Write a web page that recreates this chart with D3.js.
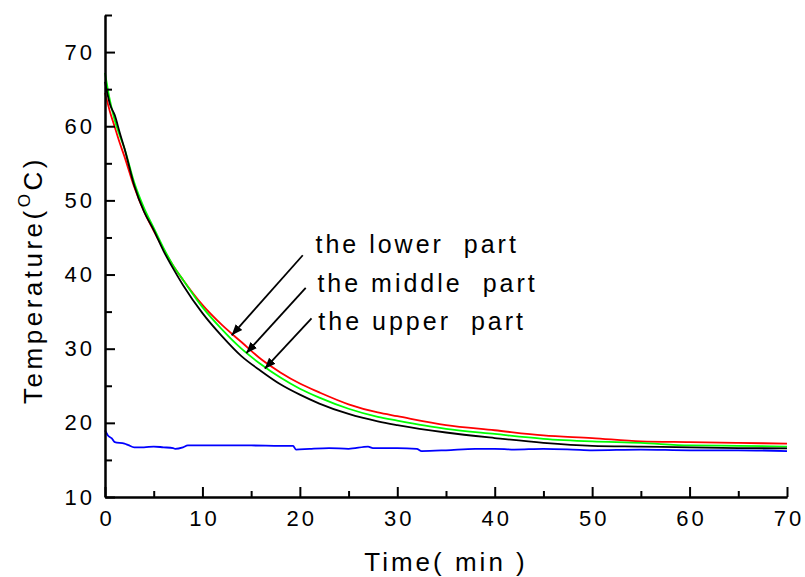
<!DOCTYPE html>
<html>
<head>
<meta charset="utf-8">
<script src="https://cdn.jsdelivr.net/npm/d3@7"></script>
<style>
  body { margin: 0; background: #fff; }
  text { font-family: "Liberation Sans", Arial, sans-serif; fill: #000; }
</style>
</head>
<body>
<script>
// time in minutes, temperatures
var tTimes = [0, 0.5, 1, 1.5, 2, 3, 4, 5, 6, 7, 8, 10, 12, 14, 16, 18, 20, 22, 25, 28, 30, 35, 40, 45, 50, 55, 60, 65, 70];
var lowerPart  = [64.5, 62.0, 59.9, 57.8, 55.9, 51.8, 48.5, 45.9, 43.4, 41.2, 39.3, 35.9, 33.2, 30.9, 28.6, 26.8, 25.3, 24.1, 22.5, 21.4, 20.9, 19.7, 19.0, 18.3, 17.95, 17.5, 17.4, 17.3, 17.2];
var middlePart = [67.2, 63.5, 60.8, 58.8, 57.0, 52.4, 49.0, 46.3, 43.6, 41.2, 39.3, 35.6, 32.6, 30.0, 27.9, 26.1, 24.6, 23.4, 21.9, 20.8, 20.3, 19.2, 18.5, 17.85, 17.5, 17.3, 16.95, 16.9, 16.8];
var upperPart  = [66.0, 63.0, 61.5, 59.2, 57.0, 52.0, 48.5, 46.0, 43.2, 40.8, 38.6, 34.8, 31.7, 29.0, 27.0, 25.2, 23.8, 22.6, 21.2, 20.2, 19.7, 18.7, 17.95, 17.3, 16.9, 16.8, 16.7, 16.6, 16.55];

// ambient (blue) trace
var blueTimes = [0, 0.3, 0.7, 1, 2, 2.4, 3, 4, 5, 6, 7, 7.2, 8, 8.5, 10, 12, 15, 18, 19.3, 19.6, 21, 23, 25, 27, 27.5, 28, 30, 32, 32.5, 35, 38, 40, 42, 45, 48, 50, 55, 60, 65, 70];
var blueTemps = [19.0, 18.3, 17.9, 17.4, 17.2, 17.0, 16.7, 16.7, 16.8, 16.7, 16.6, 16.5, 16.7, 16.95, 16.95, 16.95, 16.95, 16.9, 16.9, 16.4, 16.5, 16.6, 16.5, 16.8, 16.6, 16.6, 16.6, 16.5, 16.2, 16.3, 16.5, 16.5, 16.4, 16.5, 16.4, 16.3, 16.4, 16.3, 16.3, 16.2];

var xMajor = [0, 10, 20, 30, 40, 50, 60, 70];
var xMinor = [5, 15, 25, 35, 45, 55, 65];
var yMajor = [10, 20, 30, 40, 50, 60, 70];
var yMinor = [15, 25, 35, 45, 55, 65, 75];

// annotation labels: text anchor and arrow tail/tip in data units
var noteLabels = ["the lower  part", "the middle  part", "the upper  part"];
var noteText = [[21.6, 42.9], [21.8, 37.6], [21.9, 32.5]];
var noteTail = [[20.3, 42.6], [20.6, 38.2], [21.2, 34.1]];
var noteTip  = [[13.0, 31.8], [14.5, 29.4], [16.4, 27.3]];

var width = 805, height = 577;
var margin = {top: 15, right: 18, bottom: 80, left: 105};

var svg = d3.select("body").append("svg")
    .attr("width", width)
    .attr("height", height);

var x = d3.scaleLinear().domain([0, 70]).range([margin.left, width - margin.right]);
var y = d3.scaleLinear().domain([10, 75]).range([height - margin.bottom, margin.top]);

//Series
var series = [
    {name: "lower", color: "#ff0000", t: tTimes, v: lowerPart},
    {name: "middle", color: "#00ff00", t: tTimes, v: middlePart},
    {name: "upper", color: "#000000", t: tTimes, v: upperPart},
    {name: "ambient", color: "#0000ff", t: blueTimes, v: blueTemps}
];

var line = d3.line()
    .x(function(d) { return x(d[0]); })
    .y(function(d) { return y(d[1]); })
    .curve(d3.curveMonotoneX);

svg.append("g").selectAll("path")
    .data(series)
    .enter()
    .append("path")
    .attr("d", function(s) {
        return line(s.t.map(function(t, i) { return [t, s.v[i]]; }));
    })
    .style("fill", "none")
    .style("stroke", function(s) { return s.color; })
    .style("stroke-width", 1.8);

//Axes
function styleAxis(g) {
    g.select(".domain").attr("stroke-width", 2);
    g.selectAll(".tick line").attr("stroke-width", 2);
}

svg.append("g")
    .attr("transform", "translate(0," + y(10) + ")")
    .call(d3.axisBottom(x).tickValues(xMinor).tickSize(-6).tickFormat("").tickSizeOuter(0))
    .call(styleAxis);

svg.append("g")
    .attr("transform", "translate(0," + y(10) + ")")
    .call(d3.axisBottom(x).tickValues(xMajor).tickSize(-10).tickSizeOuter(0).tickPadding(13))
    .call(styleAxis)
    .call(function(g) {
        g.selectAll("text")
            .style("font-size", "22px")
            .style("letter-spacing", "3px")
            .attr("dx", "1.5px");
    });

svg.append("g")
    .attr("transform", "translate(" + x(0) + ",0)")
    .call(d3.axisLeft(y).tickValues(yMinor).tickSize(-7).tickFormat("").tickSizeOuter(0))
    .call(styleAxis);

svg.append("g")
    .attr("transform", "translate(" + x(0) + ",0)")
    .call(d3.axisLeft(y).tickValues(yMajor).tickSize(-10).tickSizeOuter(0).tickPadding(13))
    .call(styleAxis)
    .call(function(g) {
        g.selectAll("text")
            .style("font-size", "22px")
            .style("letter-spacing", "3px")
            .attr("dx", "3px");
    });

//Axis titles
svg.append("text")
    .attr("x", (x(0) + x(70)) / 2)
    .attr("y", 571)
    .attr("text-anchor", "middle")
    .style("font-size", "26px")
    .style("letter-spacing", "3px")
    .style("white-space", "pre")
    .text("Time( min )");

var yTitle = svg.append("text")
    .attr("transform", "translate(42," + 280 + ") rotate(-90)")
    .attr("text-anchor", "middle")
    .style("font-size", "26px")
    .style("letter-spacing", "3.5px");
yTitle.append("tspan").text("Temperature(");
yTitle.append("tspan").attr("dy", -12).style("font-size", "17px").text("O");
yTitle.append("tspan").attr("dy", 12).text("C)");

//Annotations
svg.append("defs").append("marker")
    .attr("id", "arrow")
    .attr("viewBox", "0 0 10 10")
    .attr("refX", 10).attr("refY", 5)
    .attr("markerWidth", 11).attr("markerHeight", 11)
    .attr("markerUnits", "userSpaceOnUse")
    .attr("orient", "auto")
    .append("path")
    .attr("d", "M0,1 L10,5 L0,9 Z")
    .attr("fill", "#000");

var notes = svg.append("g");
noteLabels.forEach(function(label, i) {
    notes.append("line")
        .attr("x1", x(noteTail[i][0])).attr("y1", y(noteTail[i][1]))
        .attr("x2", x(noteTip[i][0])).attr("y2", y(noteTip[i][1]))
        .attr("stroke", "#000")
        .attr("stroke-width", 1.8)
        .attr("marker-end", "url(#arrow)");
    notes.append("text")
        .attr("x", x(noteText[i][0]))
        .attr("y", y(noteText[i][1]))
        .style("font-size", "25px")
        .style("letter-spacing", "3px")
        .style("white-space", "pre")
        .text(label);
});
</script>
</body>
</html>
